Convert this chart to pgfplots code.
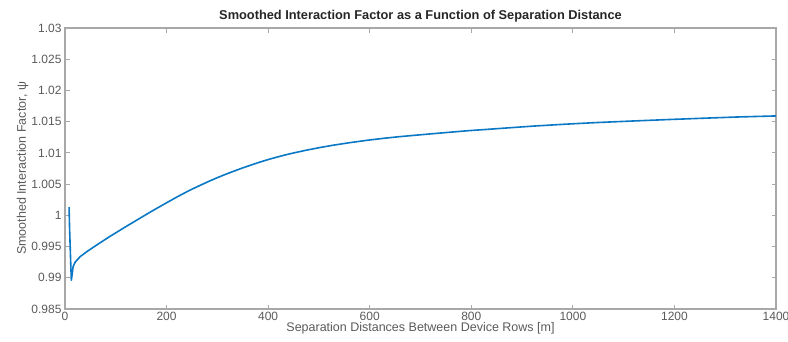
\documentclass[border=0pt]{standalone}
\usepackage{fontspec}
\setmainfont{Liberation Sans}
\usepackage{pgfplots}
\pgfplotsset{compat=1.18}
\definecolor{mblue}{HTML}{0A78C4}
\definecolor{axgray}{HTML}{A8A8A8}
\definecolor{txtgray}{HTML}{5A5A5A}
\begin{document}
\begin{tikzpicture}
\path[use as bounding box] (-65pt,-32pt) rectangle (723pt,309pt);
\begin{axis}[
  at={(0,0)}, anchor=south west,
  scale only axis,
  width=711pt, height=281pt,
  xmin=0, xmax=1400, ymin=0.985, ymax=1.03,
  xtick={0,200,...,1400},
  ytick={0.985,0.99,0.995,1,1.005,1.01,1.015,1.02,1.025,1.03},
  yticklabels={0.985,0.99,0.995,1,1.005,1.01,1.015,1.02,1.025,1.03},
  /pgf/number format/1000 sep={},
  /pgf/number format/assume math mode=true,
  tick align=inside,
  major tick length=4.5pt,
  axis line style={axgray, line width=1.2pt},
  every tick/.style={axgray, line width=0.8pt},
  tick label style={font=\fontsize{12}{14}\selectfont, text=txtgray},
  xlabel={Separation Distances Between Device Rows [m]},
  ylabel={Smoothed Interaction Factor, ψ},
  label style={font=\fontsize{12.5}{14}\selectfont, text=txtgray},
  xlabel style={yshift=5pt},
  ylabel style={yshift=-4pt},
  title={Smoothed Interaction Factor as a Function of Separation Distance},
  title style={font=\bfseries\fontsize{12.8}{14}\selectfont, yshift=-4pt, text=black!85},
]
\addplot[mblue, line width=1.6pt, line join=round] coordinates {
(8,1.0013) (9,0.998) (11,0.993) (12.5,0.9896) (14,0.9905) (16,0.9918) (20,0.9925)
(30,0.9934) (45,0.9943) (56,0.9949) (70,0.99565) (88,0.9966) (105,0.99745)
(121,0.99825) (138,0.99907) (154,0.99985) (170,1.00062) (187,1.00141) (200,1.00201)
(220,1.00292) (236,1.00361) (253,1.00430) (270,1.00495) (285,1.00551) (302,1.00610)
(318,1.00663) (335,1.00715) (351,1.00763) (368,1.00810) (384,1.00853) (400,1.00893)
(417,1.00932) (433,1.00966) (449,1.00997) (475,1.01043) (502,1.01086) (528,1.01123)
(560,1.01163) (594,1.01201) (630,1.01236) (660,1.01261) (700,1.01290) (725,1.01308)
(790,1.01353) (856,1.01391) (920,1.01428) (988,1.01461) (1050,1.01487)
(1119,1.01511) (1185,1.01533) (1250,1.01553) (1320,1.01574) (1400,1.01592)
};
\end{axis}
\end{tikzpicture}
\end{document}
